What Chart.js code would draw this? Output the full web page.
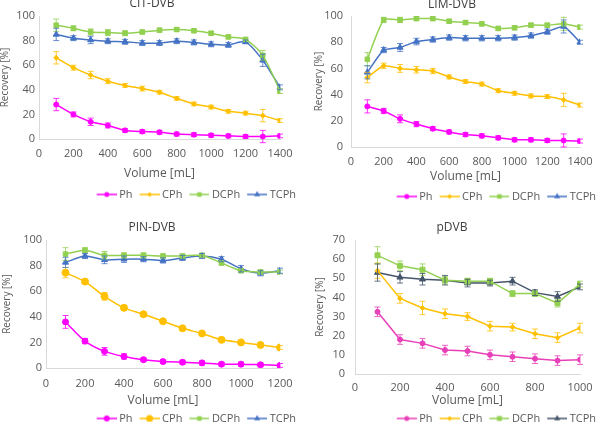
<!DOCTYPE html>
<html>
<head>
<meta charset="utf-8">
<script src="https://cdn.jsdelivr.net/npm/chart.js@4.4.0/dist/chart.umd.min.js"></script>
<style>
  html, body { margin: 0; padding: 0; background: #fff; }
  #wrap { position: relative; width: 600px; height: 422px; overflow: hidden; }
  #wrap canvas { position: absolute; }
</style>
</head>
<body>
<div id="wrap">
  <canvas id="c1" width="304" height="214" style="left:0;top:-4px"></canvas>
  <canvas id="c2" width="304" height="215" style="left:300px;top:-3px"></canvas>
  <canvas id="c3" width="304" height="214" style="left:0;top:220px"></canvas>
  <canvas id="c4" width="304" height="214" style="left:300px;top:220px"></canvas>
</div>
<script>
// ---- data ----
const volumes1400 = [100, 200, 300, 400, 500, 600, 700, 800, 900, 1000, 1100, 1200, 1300, 1400];
const volumes1200 = [100, 200, 300, 400, 500, 600, 700, 800, 900, 1000, 1100, 1200];
const volumes1000 = [100, 200, 300, 400, 500, 600, 700, 800, 900, 1000];
const seriesNames = ['Ph', 'CPh', 'DCPh', 'TCPh'];

// CIT-DVB
const citPh      = [28, 20, 14, 11, 7, 6, 5.5, 4, 3.5, 3, 2.5, 2, 2, 2.5];
const citPhErr   = [5, 2, 3, 2, 1.5, 1.5, 1.5, 1.5, 1.5, 1.5, 1.5, 1.5, 5, 1.5];
const citCPh     = [66, 58, 52, 47, 43.5, 41, 38, 33, 28.5, 26, 22.5, 21, 19, 15];
const citCPhErr  = [5, 2, 3, 2, 1.5, 2, 1.5, 1.5, 1.5, 1.5, 1.5, 1.5, 5, 1.5];
const citDCPh    = [92.5, 90, 87, 86.5, 86, 87, 88.5, 89, 88, 86, 83, 81, 68, 39];
const citDCPhErr = [5, 2, 2.5, 2.5, 2, 1.5, 1.5, 1.5, 1.5, 1.5, 1.5, 1.5, 4, 2];
const citTCPh    = [85, 82, 80.5, 79.5, 79, 78, 78, 79.5, 78.5, 77, 76.5, 79, 64, 42];
const citTCPhErr = [5, 2, 3, 2, 2, 2, 2, 2, 2, 2, 2, 1.5, 5, 2];

// LIM-DVB
const limPh      = [31, 27.5, 21.5, 17.5, 14, 11.5, 9.5, 8.5, 7, 5.5, 5.5, 5, 5, 4.5];
const limPhErr   = [5, 2, 3, 2, 1.5, 1.5, 1.5, 1.5, 1.5, 1.5, 1.5, 1.5, 5, 1.5];
const limCPh     = [53, 62, 60, 59, 58, 53.5, 50, 48, 43, 41, 39, 38.5, 36, 32];
const limCPhErr  = [4, 2, 3, 2.5, 2, 1.5, 1.5, 1.5, 1.5, 1.5, 1.5, 1.5, 5, 1.5];
const limDCPh    = [67, 97, 97, 98, 98, 96, 95, 94, 90.5, 91, 93, 93, 94, 91.5];
const limDCPhErr = [5, 2, 2, 1.5, 1.5, 1.5, 1.5, 1.5, 1.5, 1.5, 1.5, 1.5, 5, 1.5];
const limTCPh    = [57, 74, 76, 80.5, 82, 83.5, 83, 83, 83, 83.5, 85, 88, 92, 80];
const limTCPhErr = [5, 2, 3, 2.5, 2, 2, 2, 2, 2, 2, 2, 2, 5, 1.5];

// PIN-DVB
const pinPh      = [36, 21, 13, 9, 6.5, 5, 4.5, 4, 3, 3, 2.5, 2];
const pinPhErr   = [5, 2, 3, 2, 1.5, 1.5, 1.5, 1.5, 1.5, 1.5, 1.5, 1.5];
const pinCPh     = [74.5, 67.5, 56, 47, 42, 36.5, 31, 27, 22, 20, 18, 16];
const pinCPhErr  = [4, 1.5, 3, 2, 1.5, 1.5, 1.5, 1.5, 1.5, 1.5, 1.5, 1.5];
const pinDCPh    = [89, 92, 88, 88, 88, 87.5, 87.5, 88, 82, 76, 75, 75];
const pinDCPhErr = [5, 2, 3, 2, 2, 1.5, 1.5, 1.5, 1.5, 1.5, 1.5, 1.5];
const pinTCPh    = [82.5, 87.5, 84.5, 85, 85, 84, 86, 87.5, 85, 77.5, 74, 76];
const pinTCPhErr = [4, 2, 3, 2.5, 2, 2, 2, 2, 2, 2.5, 2, 2];

// pDVB
const pdvbPh      = [32.5, 18, 16, 12.5, 12, 10, 9, 8, 7, 7.5];
const pdvbPhErr   = [2.5, 2.5, 2.5, 2.5, 2.5, 2.5, 2.5, 2.5, 2.5, 2.5];
const pdvbCPh     = [54, 39.5, 34.5, 31.5, 30, 25, 24.5, 21, 19, 24];
const pdvbCPhErr  = [4, 2.5, 3.5, 2.5, 2, 2.5, 2, 2.5, 2.5, 2.5];
const pdvbDCPh    = [62, 56.5, 54.5, 49, 48.5, 48.5, 42, 42, 37, 47];
const pdvbDCPhErr = [4.5, 2.5, 3, 2, 1.5, 1.5, 1.5, 1.5, 2, 1.5];
const pdvbTCPh    = [53, 50.5, 49.5, 49, 47.5, 47.5, 48.5, 42.5, 40.5, 45.5];
const pdvbTCPhErr = [4.5, 3, 3, 2.5, 2, 1.5, 2, 1.5, 2.5, 1.5];

const FONT = '"Open Sans", Lato, sans-serif';
const TXT = '#595959';
const AXIS = '#d9d9d9';

// marker shapes for the legend icons (same geometry as Chart.js points)
function drawMarker(g, style, x, y, r) {
  g.beginPath();
  if (style === 'circle') g.arc(x, y, r, 0, Math.PI * 2);
  else if (style === 'rect') { const s = r * Math.SQRT1_2; g.rect(x - s, y - s, s * 2, s * 2); }
  else if (style === 'rectRot') { g.moveTo(x, y - r); g.lineTo(x + r, y); g.lineTo(x, y + r); g.lineTo(x - r, y); g.closePath(); }
  else if (style === 'triangle') { g.moveTo(x, y - r); g.lineTo(x + r * 0.866, y + r / 2); g.lineTo(x - r * 0.866, y + r / 2); g.closePath(); }
  g.fill();
}

// 22px wide icon centred on a 16px legend box: line runs past the box on the right
function legendIcon(color, style, r) {
  const c = document.createElement('canvas');
  c.width = 22; c.height = 10;
  const g = c.getContext('2d');
  g.strokeStyle = color; g.fillStyle = color; g.lineWidth = 1.5;
  g.beginPath(); g.moveTo(2, 5); g.lineTo(22, 5); g.stroke();
  drawMarker(g, style, 12, 5, r);
  return c;
}

// vertical error bars, read from dataset.errors
const errorBars = {
  id: 'errorBars',
  afterDatasetsDraw(chart) {
    const { ctx } = chart;
    const ys = chart.scales.y;
    chart.data.datasets.forEach((ds, i) => {
      const meta = chart.getDatasetMeta(i);
      ctx.save();
      ctx.strokeStyle = ds.borderColor;
      ctx.globalAlpha = 0.8;
      ctx.lineWidth = 1;
      meta.data.forEach((pt, j) => {
        const v = ds.data[j].y, e = ds.errors[j];
        const t = ys.getPixelForValue(v + e), b = ys.getPixelForValue(v - e);
        ctx.beginPath();
        ctx.moveTo(pt.x, t); ctx.lineTo(pt.x, b);
        ctx.moveTo(pt.x - 3, t); ctx.lineTo(pt.x + 3, t);
        ctx.moveTo(pt.x - 3, b); ctx.lineTo(pt.x + 3, b);
        ctx.stroke();
      });
      ctx.restore();
    });
  }
};

function series(xs, vals, errs, color, style, r, tension) {
  return {
    data: xs.map((x, i) => ({ x, y: vals[i] })),
    errors: errs,
    borderColor: color,
    backgroundColor: color,
    borderWidth: 1.5,
    pointStyle: style,
    pointRadius: r,
    pointBorderWidth: 1,
    tension,
    icon: legendIcon(color, style, r),
  };
}

// g: layout numbers for one panel (axis box sizes and text offsets)
function makeChart(id, title, xmax, ymax, ystep, datasets, g) {
  datasets.forEach((d, i) => d.label = seriesNames[i]);
  return new Chart(document.getElementById(id), {
    type: 'line',
    data: { datasets },
    plugins: [errorBars],
    options: {
      responsive: false,
      animation: false,
      layout: { padding: 0 },
      plugins: {
        title: { display: true, text: title, color: '#404040', font: { family: FONT, size: 12, weight: 'normal' }, padding: { top: 0, bottom: g.titleGap } },
        legend: {
          position: 'bottom', align: 'end',
          labels: {
            color: TXT, font: { family: FONT, size: 11 }, usePointStyle: true, pointStyleWidth: 16, padding: 8,
            generateLabels: ch => ch.data.datasets.map((d, i) => ({ text: d.label, pointStyle: d.icon, fontColor: TXT, datasetIndex: i, lineWidth: 0 }))
          }
        },
        tooltip: { enabled: false }
      },
      scales: {
        x: {
          type: 'linear', min: 0, max: xmax,
          afterFit: s => { s.height = g.xH; s.paddingRight = g.padR; s.paddingLeft = 0; },
          ticks: { stepSize: 200, autoSkip: false, maxRotation: 0, minRotation: 0, callback: v => String(v), color: TXT, font: { family: FONT, size: 11 }, padding: g.xTick },
          grid: { display: false, drawTicks: false }, border: { color: AXIS },
          title: { display: true, text: 'Volume [mL]', color: TXT, font: { family: FONT, size: 12 }, padding: { top: 0, bottom: g.xTitle } }
        },
        y: {
          min: 0, max: ymax,
          afterFit: s => { s.width = g.yW; },
          ticks: { stepSize: ystep, color: TXT, font: { family: FONT, size: 11 }, padding: g.yTick },
          grid: { display: false, drawTicks: false }, border: { color: AXIS },
          title: { display: true, text: 'Recovery [%]', color: TXT, font: { family: FONT, size: 10 }, padding: { top: g.yTitle, bottom: 0 } }
        }
      }
    }
  });
}

const PH = '#ff00ff', CPH = '#ffc000', DCPH = '#92d050', TCPH = '#4472c4';

makeChart('c1', 'CIT-DVB', 1400, 100, 20, [
  series(volumes1400, citPh, citPhErr, PH, 'circle', 2.5, 0.25),
  series(volumes1400, citCPh, citCPhErr, CPH, 'rectRot', 2.5, 0.25),
  series(volumes1400, citDCPh, citDCPhErr, DCPH, 'rect', 3.2, 0.25),
  series(volumes1400, citTCPh, citTCPhErr, TCPH, 'triangle', 3.5, 0.25),
], { titleGap: 5.6, xH: 42, xTick: 8.4, xTitle: -0.2, padR: 24, yW: 39, yTick: 4, yTitle: -1 });

makeChart('c2', 'LIM-DVB', 1400, 100, 20, [
  series(volumes1400, limPh, limPhErr, PH, 'circle', 2.5, 0.2),
  series(volumes1400, limCPh, limCPhErr, CPH, 'rectRot', 2.5, 0.2),
  series(volumes1400, limDCPh, limDCPhErr, DCPH, 'rect', 3.2, 0.2),
  series(volumes1400, limTCPh, limTCPhErr, TCPH, 'triangle', 3.5, 0.2),
], { titleGap: 4.6, xH: 36, xTick: 8.4, xTitle: -1.2, padR: 24, yW: 51, yTick: 8, yTitle: 13 });

makeChart('c3', 'PIN-DVB', 1200, 100, 20, [
  series(volumes1200, pinPh, pinPhErr, PH, 'circle', 3, 0.25),
  series(volumes1200, pinCPh, pinCPhErr, CPH, 'circle', 3.5, 0.25),
  series(volumes1200, pinDCPh, pinDCPhErr, DCPH, 'rect', 3.2, 0.25),
  series(volumes1200, pinTCPh, pinTCPhErr, TCPH, 'triangle', 3.5, 0.25),
], { titleGap: 5.6, xH: 37, xTick: 9.4, xTitle: -3.2, padR: 24, yW: 46, yTick: 4, yTitle: 1 });

makeChart('c4', 'pDVB', 1000, 70, 10, [
  series(volumes1000, pdvbPh, pdvbPhErr, '#e840b8', 'circle', 2.5, 0),
  series(volumes1000, pdvbCPh, pdvbCPhErr, CPH, 'rectRot', 2.5, 0),
  series(volumes1000, pdvbDCPh, pdvbDCPhErr, DCPH, 'rect', 3.5, 0),
  series(volumes1000, pdvbTCPh, pdvbTCPhErr, '#44546a', 'triangle', 3.5, 0),
], { titleGap: 5.6, xH: 31, xTick: 7.4, xTitle: -3.2, padR: 24, yW: 55, yTick: 10, yTitle: 14 });
</script>
</body>
</html>
